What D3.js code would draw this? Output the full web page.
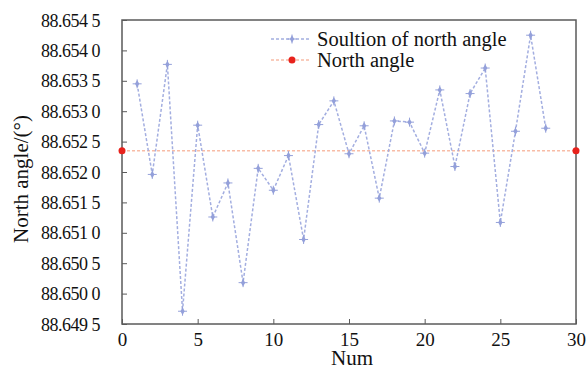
<!DOCTYPE html>
<html><head><meta charset="utf-8">
<script src="https://cdn.jsdelivr.net/npm/d3@7"></script>
<style>
html,body{margin:0;padding:0;background:#fff;}
svg text{font-family:"Liberation Serif","Times New Roman","DejaVu Serif",serif !important;}
</style></head>
<body><svg id="c" width="588" height="368"></svg>
<script>
const nums = [1,2,3,4,5,6,7,8,9,10,11,12,13,14,15,16,17,18,19,20,21,22,23,24,25,26,27,28];
const solution = [88.65345,88.65196,88.65377,88.64971,88.65277,88.65126,88.65182,88.65018,88.65206,88.65170,88.65227,88.65089,88.65278,88.65317,88.65230,88.65276,88.65157,88.65284,88.65282,88.65231,88.65335,88.65209,88.65329,88.65371,88.65117,88.65267,88.65425,88.65272];
const northX = [0, 30];
const northAngle = 88.65235;
const yTicks = [88.6495,88.6500,88.6505,88.6510,88.6515,88.6520,88.6525,88.6530,88.6535,88.6540,88.6545];
const yTickLabels = ["88.649 5","88.650 0","88.650 5","88.651 0","88.651 5","88.652 0","88.652 5","88.653 0","88.653 5","88.654 0","88.654 5"];
const xTicks = [0,5,10,15,20,25,30];
const seriesNames = ["Soultion of north angle","North angle"];

const svg = d3.select("#c");
const L=122, R=576, T=20, B=324;
const x = d3.scaleLinear().domain([0,30]).range([L,R]);
const y = d3.scaleLinear().domain([88.6495,88.6545]).range([B,T]);
const axisColor = "#5a5a5a";
const ff = "'Liberation Serif','Times New Roman','DejaVu Serif',serif";

svg.append("rect").attr("x",L).attr("y",T).attr("width",R-L).attr("height",B-T)
  .attr("fill","none").attr("stroke",axisColor).attr("stroke-width",1.5);

const ya = svg.append("g").attr("transform",`translate(${L},0)`)
  .call(d3.axisLeft(y).tickValues(yTicks).tickFormat((d,i)=>yTickLabels[i]).tickSizeInner(-5).tickSizeOuter(0).tickPadding(22));
ya.attr("font-family",ff).attr("font-size",18);
ya.select(".domain").remove();
ya.selectAll("line").attr("stroke",axisColor).attr("stroke-width",1);
ya.selectAll("text").attr("font-family",ff).attr("font-size",18).attr("letter-spacing","-0.5px")
  .attr("fill","#111").attr("dy","0.34em");

const xa = svg.append("g").attr("transform",`translate(0,${B})`)
  .call(d3.axisBottom(x).tickValues(xTicks).tickFormat(d3.format("d")).tickSizeInner(-5).tickSizeOuter(0).tickPadding(9));
xa.attr("font-family",ff).attr("font-size",19);
xa.select(".domain").remove();
xa.selectAll("line").attr("stroke",axisColor).attr("stroke-width",1);
xa.selectAll("text").attr("font-family",ff).attr("font-size",19).attr("fill","#111");

svg.append("text").attr("x",352).attr("y",365).attr("text-anchor","middle")
  .attr("font-family",ff).attr("font-size",21).attr("fill","#111").text("Num");
svg.append("text").attr("transform","translate(28,179) rotate(-90)").attr("text-anchor","middle")
  .attr("font-family",ff).attr("font-size",21).attr("fill","#111").text("North angle/(°)");

const blue = "#a3aee0";
const blueM = "#94a0da";
const redLine = "#f8bca6";
const redDot = "#e8221c";

svg.append("line").attr("x1",x(northX[0])).attr("x2",x(northX[1]))
  .attr("y1",y(northAngle)).attr("y2",y(northAngle))
  .attr("stroke",redLine).attr("stroke-width",1.5).attr("stroke-dasharray","3,2");
svg.selectAll(".nd").data(northX).enter().append("circle")
  .attr("cx",d=>x(d)).attr("cy",y(northAngle)).attr("r",3.5).attr("fill",redDot);

const line = d3.line().x((d,i)=>x(nums[i])).y(d=>y(d));
svg.append("path").datum(solution).attr("d",line).attr("fill","none")
  .attr("stroke",blue).attr("stroke-width",1.5).attr("stroke-dasharray","3,2");

function marker(g, cx, cy){
  g.append("path").attr("d",d3.symbol().type(d3.symbolDiamond).size(16)())
   .attr("transform",`translate(${cx},${cy})`).attr("fill",blueM);
  g.append("path").attr("d",`M${cx-4.5},${cy}H${cx+4.5}M${cx},${cy-4.5}V${cy+4.5}`)
   .attr("stroke",blueM).attr("stroke-width",1);
}
const mg = svg.append("g");
solution.forEach((v,i)=>marker(mg, x(nums[i]), y(v)));

const lx1=271, lx2=311, ly1=39, ly2=60;
svg.append("line").attr("x1",lx1).attr("x2",lx2).attr("y1",ly1).attr("y2",ly1)
  .attr("stroke",blue).attr("stroke-width",1.5).attr("stroke-dasharray","3,2");
marker(svg, 292, ly1);
svg.append("line").attr("x1",lx1).attr("x2",lx2).attr("y1",ly2).attr("y2",ly2)
  .attr("stroke",redLine).attr("stroke-width",1.5).attr("stroke-dasharray","3,2");
svg.append("circle").attr("cx",292).attr("cy",ly2).attr("r",3.5).attr("fill",redDot);
svg.append("text").attr("x",317).attr("y",45.7).attr("font-family",ff).attr("font-size",20.5).attr("fill","#111").text(seriesNames[0]);
svg.append("text").attr("x",317).attr("y",66.7).attr("font-family",ff).attr("font-size",20.5).attr("fill","#111").text(seriesNames[1]);
</script></body></html>
